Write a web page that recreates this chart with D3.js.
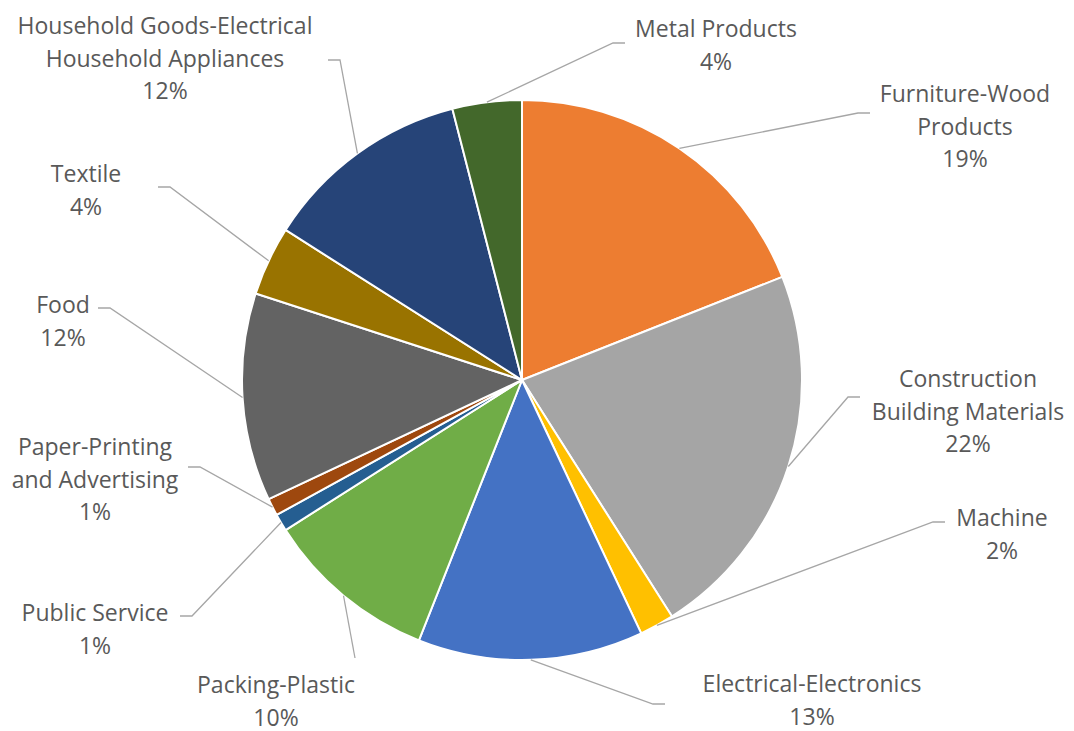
<!DOCTYPE html>
<html>
<head>
<meta charset="utf-8">
<script src="https://cdn.jsdelivr.net/npm/d3@7/dist/d3.min.js"></script>
<style>
  html, body { margin: 0; padding: 0; background: #ffffff; }
  svg { display: block; }
  text { font-family: "Open Sans", Lato, "Noto Sans", sans-serif; }
</style>
</head>
<body>
<svg id="chart" width="1074" height="731"></svg>
<script>
// Share of enterprises by industry sector (percent)
const categories = [
  "Furniture-Wood Products",
  "Construction Building Materials",
  "Machine",
  "Electrical-Electronics",
  "Packing-Plastic",
  "Public Service",
  "Paper-Printing and Advertising",
  "Food",
  "Textile",
  "Household Goods-Electrical Household Appliances",
  "Metal Products"
];
const values = [19, 22, 2, 13, 10, 1, 1, 12, 4, 12, 4];
const colors = [
  "#ED7D31", "#A5A5A5", "#FFC000", "#4472C4", "#70AD47",
  "#255E91", "#9E480E", "#636363", "#997300", "#264478", "#43682B"
];
// number of words kept on the first line of each wrapped label
const firstLineWords = [1, 1, 1, 1, 1, 2, 1, 1, 1, 2, 2];

// label placement: text centre x, first baseline y, leader elbow, leader tail direction
const labelLayout = [
  { tx: 965, ty: 102, ex: 858, ey: 113, dir: 1 },
  { tx: 968, ty: 387, ex: 848, ey: 397, dir: 1 },
  { tx: 1002, ty: 526, ex: 933, ey: 522, dir: 1 },
  { tx: 812, ty: 692, ex: 653, ey: 704, dir: 1 },
  { tx: 276, ty: 693, ex: 355, ey: 658, dir: 0 },
  { tx: 95, ty: 621, ex: 192, ey: 616, dir: -1 },
  { tx: 95, ty: 455, ex: 200, ey: 467, dir: -1 },
  { tx: 63, ty: 313, ex: 110, ey: 308, dir: -1 },
  { tx: 86, ty: 182, ex: 170, ey: 187, dir: -1 },
  { tx: 165, ty: 34, ex: 340, ey: 60, dir: -1 },
  { tx: 716, ty: 37, ex: 613, ey: 43, dir: 1 }
];

const cx = 522, cy = 380, radius = 280;
const lineGap = 32.5;

const svg = d3.select("#chart");
const g = svg.append("g").attr("transform", `translate(${cx},${cy})`);

const data = categories.map((c, i) => ({ name: c, value: values[i], color: colors[i], i }));
const pie = d3.pie().value(d => d.value).sort(null);
const arcs = pie(data);
const arc = d3.arc().innerRadius(0).outerRadius(radius);

g.selectAll("path.slice")
  .data(arcs)
  .join("path")
  .attr("class", "slice")
  .attr("d", arc)
  .attr("fill", d => d.data.color)
  .attr("stroke", "#ffffff")
  .attr("stroke-width", 2)
  .attr("stroke-linejoin", "round");

// leader lines: from the slice's outer edge midpoint to the elbow, then a short tail
const leaders = svg.append("g");
arcs.forEach((a, k) => {
  const L = labelLayout[k];
  const mid = (a.startAngle + a.endAngle) / 2;
  const sx = cx + radius * Math.sin(mid);
  const sy = cy - radius * Math.cos(mid);
  const pts = [[sx, sy], [L.ex, L.ey]];
  if (L.dir !== 0) pts.push([L.ex + 12 * L.dir, L.ey]);
  leaders.append("path")
    .attr("d", d3.line()(pts))
    .attr("fill", "none")
    .attr("stroke", "#A6A6A6")
    .attr("stroke-width", 1.3);
});

// data labels: category name (wrapped) and percentage
const labels = svg.append("g");
const total = d3.sum(values);
arcs.forEach((a, k) => {
  const L = labelLayout[k];
  const words = a.data.name.split(" ");
  const n = firstLineWords[k];
  const lines = [words.slice(0, n).join(" ")];
  if (words.length > n) lines.push(words.slice(n).join(" "));
  lines.push(d3.format(".0f")(a.data.value / total * 100) + "%");
  const t = labels.append("text")
    .attr("text-anchor", "middle")
    .attr("fill", "#595959")
    .attr("font-size", 23);
  lines.forEach((s, j) => {
    t.append("tspan").attr("x", L.tx).attr("y", L.ty + j * lineGap).text(s);
  });
});
</script>
</body>
</html>
